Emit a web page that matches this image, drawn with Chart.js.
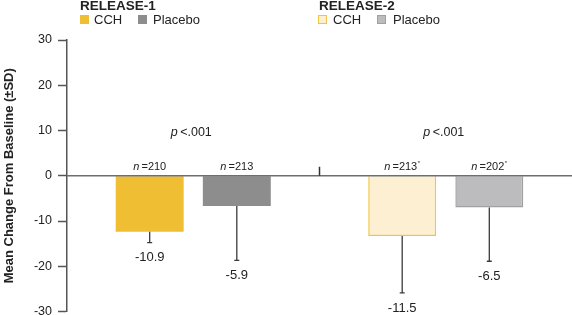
<!DOCTYPE html>
<html>
<head>
<meta charset="utf-8">
<script src="https://cdn.jsdelivr.net/npm/chart.js@4/dist/chart.umd.min.js"></script>
<style>
  html, body { margin: 0; padding: 0; background: #fff; overflow: hidden; }
  #wrap { width: 572px; height: 315px; position: relative; overflow: hidden; }
</style>
</head>
<body>
<div id="wrap"><canvas id="chart" width="572" height="325"></canvas></div>
<script>
// studies and treatment arms
const groups = ['RELEASE-1', 'RELEASE-2'];
const arms = ['CCH', 'Placebo'];
// bar ends as drawn and lower end of the SD whisker
const cchBars = [-12.4, -13.3];
const placeboBars = [-6.7, -7.0];
const cchSdEnd = [-14.8, -25.9];
const placeboSdEnd = [-18.7, -18.9];
// printed labels
const cchLabels = ['-10.9', '-11.5'];
const placeboLabels = ['-5.9', '-6.5'];
const cchN = ['210', '213'];
const placeboN = ['213', '202'];
const nStar = [false, true];
const pLabels = ['<.001', '<.001'];
const yTicks = [-30, -20, -10, 0, 10, 20, 30];

const FONT = '"Liberation Sans", Arial, sans-serif';
const AXIS = '#555555';

const sdEnds = [cchSdEnd, placeboSdEnd];
const valueLabels = [cchLabels, placeboLabels];
const nLabels = [cchN, placeboN];

const annotations = {
    id: 'annotations',
    afterDatasetsDraw(chart) {
        const ctx = chart.ctx;
        const y = chart.scales.y;
        const x = chart.scales.x;
        const area = chart.chartArea;
        const y0 = y.getPixelForValue(0);
        ctx.save();

        // zero line
        ctx.strokeStyle = '#6e6e6e';
        ctx.lineWidth = 1.5;
        ctx.beginPath();
        ctx.moveTo(area.left, y0);
        ctx.lineTo(area.right, y0);
        ctx.stroke();

        // divider between the two studies
        const mid = (x.getPixelForValue(0) + x.getPixelForValue(1)) / 2;
        ctx.strokeStyle = '#333';
        ctx.lineWidth = 1.5;
        ctx.beginPath();
        ctx.moveTo(mid, y0);
        ctx.lineTo(mid, y0 - 9);
        ctx.stroke();

        // error bars, value labels, n labels
        chart.data.datasets.forEach((ds, di) => {
            const meta = chart.getDatasetMeta(di);
            meta.data.forEach((bar, i) => {
                const yEnd = y.getPixelForValue(sdEnds[di][i]);
                ctx.strokeStyle = '#3a3a3a';
                ctx.lineWidth = 1.3;
                ctx.beginPath();
                ctx.moveTo(bar.x, bar.y);
                ctx.lineTo(bar.x, yEnd);
                ctx.moveTo(bar.x - 2.5, yEnd);
                ctx.lineTo(bar.x + 2.5, yEnd);
                ctx.stroke();

                ctx.fillStyle = '#222';
                ctx.font = '13px ' + FONT;
                ctx.textAlign = 'center';
                ctx.textBaseline = 'middle';
                ctx.fillText(valueLabels[di][i], bar.x, yEnd + 15);

                // n = xxx
                ctx.textBaseline = 'alphabetic';
                ctx.font = 'italic 11px ' + FONT;
                const wN = ctx.measureText('n').width;
                ctx.font = '11px ' + FONT;
                const rest = '\u2009=' + nLabels[di][i];
                const wR = ctx.measureText(rest).width;
                const wS = nStar[i] ? 3 : 0;
                let sx = bar.x - (wN + wR + wS) / 2;
                ctx.textAlign = 'left';
                ctx.font = 'italic 11px ' + FONT;
                ctx.fillText('n', sx, y0 - 6);
                ctx.font = '11px ' + FONT;
                ctx.fillText(rest, sx + wN, y0 - 6);
                if (nStar[i]) {
                    ctx.font = '6px ' + FONT;
                    ctx.fillText('*', sx + wN + wR + 0.5, y0 - 11);
                }
            });
        });

        // p values
        groups.forEach((g, i) => {
            const cx = x.getPixelForValue(i) - 2;
            ctx.font = 'italic 12.5px ' + FONT;
            const wp = ctx.measureText('p').width;
            ctx.font = '12.5px ' + FONT;
            const rest = '\u2009' + pLabels[i];
            const wr = ctx.measureText(rest).width;
            const sx = cx - (wp + wr) / 2;
            ctx.fillStyle = '#222';
            ctx.textAlign = 'left';
            ctx.textBaseline = 'middle';
            ctx.font = 'italic 12.5px ' + FONT;
            ctx.fillText('p', sx, 133);
            ctx.font = '12.5px ' + FONT;
            ctx.fillText(rest, sx + wp, 133);
        });
        ctx.restore();
    },
    afterDraw(chart) {
        // legend headers
        const ctx = chart.ctx;
        const legends = [
            {x: 80, boxes: [
                {fill: '#f0be32', stroke: '#f0be32', x: 80, tx: 94},
                {fill: '#8d8d8d', stroke: '#8d8d8d', x: 138, tx: 153}]},
            {x: 319, boxes: [
                {fill: '#fcefd2', stroke: '#f2c443', x: 318, tx: 333},
                {fill: '#bcbcbe', stroke: '#a0a0a0', x: 377, tx: 393}]}
        ];
        ctx.save();
        legends.forEach((lg, gi) => {
            ctx.fillStyle = '#222';
            ctx.font = 'bold 13.5px ' + FONT;
            ctx.textAlign = 'left';
            ctx.textBaseline = 'alphabetic';
            ctx.fillText(groups[gi], lg.x, 9.5);
            lg.boxes.forEach((b, bi) => {
                ctx.fillStyle = b.fill;
                ctx.fillRect(b.x, 15, 9, 9);
                ctx.strokeStyle = b.stroke;
                ctx.lineWidth = 1;
                ctx.strokeRect(b.x + 0.5, 15.5, 8, 8);
                ctx.fillStyle = '#222';
                ctx.font = '13px ' + FONT;
                ctx.textBaseline = 'middle';
                ctx.fillText(arms[bi], b.tx, 20);
            });
        });
        ctx.restore();
    }
};

const ctx = document.getElementById('chart').getContext('2d');
const chart = new Chart(ctx, {
    type: 'bar',
    data: {
        labels: groups,
        datasets: [
            {
                label: 'CCH',
                data: cchBars,
                backgroundColor: ['#f0be32', '#fcefd2'],
                borderColor: ['#f0be32', '#f2c443'],
                borderWidth: [0, 1.5]
            },
            {
                label: 'Placebo',
                data: placeboBars,
                backgroundColor: ['#8d8d8d', '#bcbcbe'],
                borderColor: ['#8d8d8d', '#a0a0a0'],
                borderWidth: [0, 1.5]
            }
        ]
    },
    options: {
        responsive: false,
        animation: false,
        categoryPercentage: 0.69,
        barPercentage: 0.78,
        layout: {
            padding: {top: 40, bottom: 0, left: 0, right: 0}
        },
        plugins: {
            legend: {display: false},
            tooltip: {enabled: false}
        },
        scales: {
            x: {
                display: false
            },
            y: {
                min: -30,
                max: 30,
                afterFit: function(scale) {
                    scale.width = 67;
                },
                afterBuildTicks: function(scale) {
                    scale.ticks = yTicks.map(v => ({value: v}));
                },
                border: {display: true, color: AXIS, width: 1.5},
                grid: {
                    drawOnChartArea: false,
                    tickColor: AXIS,
                    tickLength: 9,
                    tickWidth: 1.5
                },
                ticks: {
                    color: '#222',
                    padding: 6,
                    font: {family: FONT, size: 12.5}
                },
                title: {
                    display: true,
                    text: 'Mean Change From Baseline (\u00B1SD)',
                    color: '#222',
                    padding: {top: 2, bottom: 0},
                    font: {family: FONT, size: 13, weight: 'bold'}
                }
            }
        }
    },
    plugins: [annotations]
});
</script>
</body>
</html>
